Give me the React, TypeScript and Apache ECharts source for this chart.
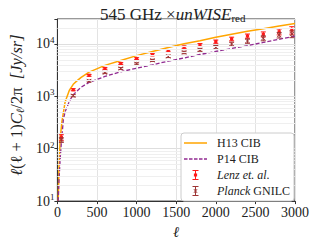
import React, { useEffect, useRef } from 'react';
import * as echarts from 'echarts';

const FONT = '"Liberation Serif", "DejaVu Serif", serif';

// Bandpower multipoles and measurements
const ell = [50, 200, 400, 600, 800, 1000, 1200, 1400, 1600, 1800, 2000, 2200, 2400, 2600, 2800, 2960];
const lenz = [165, 1340, 2520, 3410, 4240, 5250, 6240, 7420, 8710, 9620, 11100, 12500, 14200, 15300, 17100, 18400];
const lenzErr = [20, 60, 100, 130, 170, 220, 280, 350, 450, 600, 800, 1000, 1300, 1700, 2200, 3000];
const gnilc = [147, 1030, 1970, 2830, 3410, 4180, 4870, 5800, 6900, 7740, 8710, 10000, 11400, 12900, 14800, 15500];
const gnilcErr = [15, 50, 80, 110, 140, 180, 230, 300, 380, 500, 650, 850, 1100, 1400, 1800, 2300];

// Theory curves
const h13Ell = [10, 20, 36, 57, 97, 150, 200, 250, 300, 400, 600, 800, 1000, 1200, 1400, 1600, 1800, 2000, 2200, 2400, 2600, 2800, 3000];
const h13 = [10, 45, 160, 330, 780, 1300, 1700, 2000, 2300, 2900, 3900, 4850, 6000, 7200, 8600, 10100, 11500, 13400, 15300, 17500, 19500, 22000, 24500];
const p14Ell = [10, 20, 36, 50, 76, 100, 150, 200, 300, 400, 600, 800, 1000, 1200, 1400, 1600, 1800, 2000, 2200, 2400, 2600, 2800, 3000];
const p14 = [10, 25, 67, 130, 370, 520, 800, 1080, 1500, 1850, 2400, 2950, 3450, 4000, 4700, 5400, 6300, 7200, 8200, 9300, 10700, 12300, 14200];

// Minor log grid values
const minorGrid = [20, 30, 40, 50, 60, 70, 80, 90, 200, 300, 400, 500, 600, 700, 800, 900, 2000, 3000, 4000, 5000, 6000, 7000, 8000, 9000, 20000];

const RED = '#ff1a1a';
const DARK = '#9e3535';
const ORANGE = '#ffa500';
const PURPLE = '#912a91';

function errRender(color: string, marker: 'square' | 'x') {
  return (params: any, api: any) => {
    const x = api.value(0);
    const y = api.value(1);
    const e = api.value(2);
    const c = api.coord([x, y]);
    const lo = api.coord([x, y - e]);
    const hi = api.coord([x, y + e]);
    const cw = 2.5;
    const st = { stroke: color, lineWidth: 1 };
    const children: any[] = [
      { type: 'line', shape: { x1: c[0], y1: lo[1], x2: c[0], y2: hi[1] }, style: st },
      { type: 'line', shape: { x1: c[0] - cw, y1: lo[1], x2: c[0] + cw, y2: lo[1] }, style: st },
      { type: 'line', shape: { x1: c[0] - cw, y1: hi[1], x2: c[0] + cw, y2: hi[1] }, style: st },
    ];
    if (marker === 'square') {
      children.push({ type: 'rect', shape: { x: c[0] - 1.6, y: c[1] - 1.6, width: 3.2, height: 3.2 }, style: { fill: color } });
    } else {
      const m = 2;
      children.push({ type: 'line', shape: { x1: c[0] - m, y1: c[1] - m, x2: c[0] + m, y2: c[1] + m }, style: st });
      children.push({ type: 'line', shape: { x1: c[0] - m, y1: c[1] + m, x2: c[0] + m, y2: c[1] - m }, style: st });
    }
    return { type: 'group', children };
  };
}

const iconSolid = 'path://M0,0h23v1.5h-23z';
const iconDash = 'path://M0,0h3.5v1.3h-3.5z M5,0h3.5v1.3h-3.5z M10,0h3.5v1.3h-3.5z M15,0h3.5v1.3h-3.5z M20,0h3v1.3h-3z';
const iconSquare = 'path://M0,0h6v1h-6z M2.5,1h1v8h-1z M0,9h6v1h-6z M1.4,3.4h3.2v3.2h-3.2z';
const iconX = 'path://M0,0h6v1h-6z M2.5,1h1v8h-1z M0,9h6v1h-6z M1,3.6l0.6,-0.6l3.4,3.4l-0.6,0.6z M1,6.4l3.4,-3.4l0.6,0.6l-3.4,3.4z';

export default function App() {
  const ref = useRef<HTMLDivElement>(null);
  useEffect(() => {
    const chart = echarts.init(ref.current!, null, { renderer: 'svg' });
    const option: any = {
      animation: false,
      backgroundColor: '#fff',
      title: {
        text: '545 GHz ×{i|unWISE}{sub|red}',
        left: 95,
        top: 0,
        textStyle: {
          fontFamily: FONT,
          fontSize: 17,
          fontWeight: 'normal',
          color: '#222',
          rich: {
            i: { fontFamily: FONT, fontSize: 17, fontStyle: 'italic', color: '#222' },
            sub: { fontFamily: FONT, fontSize: 11, color: '#222', padding: [7, 0, 0, 0] },
          },
        },
      },
      grid: { left: 47, right: 20, top: 19, bottom: 40, show: true, borderColor: '#333', borderWidth: 1 },
      xAxis: {
        type: 'value',
        min: 0,
        max: 3000,
        interval: 500,
        name: 'ℓ',
        nameLocation: 'middle',
        nameGap: 19,
        nameTextStyle: { fontFamily: FONT, fontSize: 15, fontStyle: 'italic', color: '#222' },
        axisLine: { lineStyle: { color: '#333', width: 1 } },
        axisTick: { show: true, length: 3, lineStyle: { color: '#333' } },
        axisLabel: { fontFamily: FONT, fontSize: 14, color: '#222', margin: 4, formatter: (v: number) => String(v) },
        splitLine: { show: true, lineStyle: { color: '#e3e3e3', width: 1 } },
      },
      yAxis: {
        type: 'log',
        logBase: 10,
        min: 10,
        max: 30000,
        name: '{i|ℓ}(ℓ + 1){i|C}{sub|ℓ}/2π  {i|[Jy/sr]}',
        nameLocation: 'middle',
        nameGap: 30,
        nameRotate: 90,
        nameTextStyle: {
          fontFamily: FONT,
          fontSize: 16.5,
          color: '#222',
          padding: [0, 0, 0, 10],
          rich: {
            i: { fontFamily: FONT, fontSize: 16.5, fontStyle: 'italic', color: '#222' },
            sub: { fontFamily: FONT, fontSize: 11, fontStyle: 'italic', color: '#222', padding: [6, 0, 0, 0] },
          },
        },
        axisLine: { show: true, lineStyle: { color: '#333', width: 1 } },
        axisTick: { show: true, length: 3, lineStyle: { color: '#333' } },
        axisLabel: {
          margin: 3,
          formatter: (v: number) => {
            const e = Math.round(Math.log10(v));
            if (Math.abs(Math.pow(10, e) - v) > 1e-6 * v) return '';
            return `{b|10}{s|${e}}`;
          },
          rich: {
            b: { fontFamily: FONT, fontSize: 14, color: '#222' },
            s: { fontFamily: FONT, fontSize: 9, color: '#222', padding: [0, 0, 8, 0] },
          },
        },
        splitLine: { show: true, lineStyle: { color: '#dedede', width: 1 } },
      },
      legend: {
        orient: 'vertical',
        left: 181,
        top: 133,
        z: 20,
        padding: [4, 4, 4, 3],
        itemGap: 4,
        itemWidth: 23,
        itemHeight: 10,
        backgroundColor: '#ffffff',
        borderColor: '#cccccc',
        borderWidth: 1,
        borderRadius: 3,
        data: [
          { name: 'H13 CIB', icon: iconSolid, itemStyle: { color: ORANGE } },
          { name: 'P14 CIB', icon: iconDash, itemStyle: { color: PURPLE } },
          { name: 'Lenz et. al.', icon: iconSquare, itemStyle: { color: RED } },
          { name: 'Planck GNILC', icon: iconX, itemStyle: { color: DARK } },
        ],
        formatter: (n: string) => {
          if (n === 'Lenz et. al.') return '{sp|}{i|Lenz et. al.}';
          if (n === 'Planck GNILC') return '{sp|}{i|Planck}{r| GNILC}';
          return '{sp|}{r|' + n + '}';
        },
        textStyle: {
          fontFamily: FONT,
          fontSize: 12,
          color: '#222',
          rich: {
            sp: { width: 5 },
            i: { fontFamily: FONT, fontSize: 12, fontStyle: 'italic', color: '#222' },
            r: { fontFamily: FONT, fontSize: 12, color: '#222' },
          },
        },
      },
      series: [
        {
          name: 'minor',
          type: 'line',
          data: [],
          z: 1,
          silent: true,
          markLine: {
            silent: true,
            symbol: ['none', 'none'],
            label: { show: false },
            lineStyle: { color: '#efefef', width: 1, type: 'solid' },
            data: minorGrid.map((v) => ({ yAxis: v })),
          },
        },
        {
          name: 'H13 CIB',
          type: 'line',
          symbol: 'none',
          z: 3,
          lineStyle: { color: ORANGE, width: 1.5 },
          itemStyle: { color: ORANGE },
          data: h13Ell.map((l, i) => [l, h13[i]]),
        },
        {
          name: 'P14 CIB',
          type: 'line',
          symbol: 'none',
          z: 3,
          lineStyle: { color: PURPLE, width: 1.3, type: [4, 2] },
          itemStyle: { color: PURPLE },
          data: p14Ell.map((l, i) => [l, p14[i]]),
        },
        {
          name: 'Lenz et. al.',
          type: 'custom',
          z: 4,
          itemStyle: { color: RED },
          renderItem: errRender(RED, 'square'),
          encode: { x: 0, y: 1 },
          data: ell.map((l, i) => [l, lenz[i], lenzErr[i]]),
        },
        {
          name: 'Planck GNILC',
          type: 'custom',
          z: 4,
          itemStyle: { color: DARK },
          renderItem: errRender(DARK, 'x'),
          encode: { x: 0, y: 1 },
          data: ell.map((l, i) => [l, gnilc[i], gnilcErr[i]]),
        },
      ],
    };
    chart.setOption(option);
    return () => chart.dispose();
  }, []);
  return <div ref={ref} style={{ position: 'fixed', left: 0, top: 0, width: 315, height: 244 }} />;
}
